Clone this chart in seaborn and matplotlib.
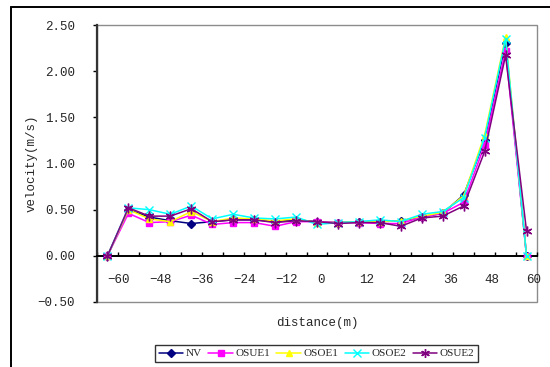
import matplotlib
matplotlib.use("Agg")
import matplotlib.pyplot as plt
from matplotlib.ticker import MultipleLocator, FuncFormatter, FixedLocator
from matplotlib.lines import Line2D
from matplotlib.patches import Rectangle
import numpy as np
import pandas as pd
import seaborn as sns

# Measurement stations along the section (m)
distance = [-60, -54, -48, -42, -36, -30, -24, -18, -12, -6, 0,
            6, 12, 18, 24, 30, 36, 42, 48, 54, 60]

# Velocity (m/s) for each scenario
nv = [0.00, 0.50, 0.42, 0.38, 0.35, 0.37, 0.39, 0.39, 0.37, 0.39, 0.37,
      0.36, 0.37, 0.37, 0.38, 0.42, 0.46, 0.66, 1.25, 2.31, 0.00]
osue1 = [0.00, 0.46, 0.36, 0.37, 0.44, 0.34, 0.36, 0.36, 0.32, 0.37, 0.37,
         0.36, 0.36, 0.35, 0.35, 0.42, 0.46, 0.58, 1.20, 2.22, 0.00]
osoe1 = [0.00, 0.50, 0.40, 0.37, 0.48, 0.37, 0.41, 0.40, 0.38, 0.40, 0.36,
         0.36, 0.37, 0.37, 0.38, 0.43, 0.47, 0.65, 1.31, 2.37, 0.00]
osoe2 = [0.00, 0.52, 0.50, 0.45, 0.54, 0.40, 0.45, 0.41, 0.40, 0.42, 0.34,
         0.36, 0.37, 0.39, 0.37, 0.45, 0.48, 0.63, 1.28, 2.35, 0.00]
osue2 = [0.00, 0.52, 0.43, 0.43, 0.51, 0.37, 0.39, 0.39, 0.36, 0.38, 0.37,
         0.35, 0.36, 0.36, 0.32, 0.41, 0.43, 0.54, 1.13, 2.17, 0.27]

series_names = ["NV", "OSUE1", "OSOE1", "OSOE2", "OSUE2"]
series_values = [nv, osue1, osoe1, osoe2, osue2]

x_tick_labels = [-60, -48, -36, -24, -12, 0, 12, 24, 36, 48, 60]

colors = ["#000080", "#FF00FF", "#FFFF00", "#00FFFF", "#800080"]
markers = ["D", "s", "^", "x", (6, 2, 0)]
msizes = [4, 5, 5, 6, 7]

df = pd.DataFrame({
    "distance": distance * len(series_names),
    "velocity": [v for vals in series_values for v in vals],
    "series": [n for n in series_names for _ in distance],
})

sns.set_style("white")
plt.rcParams["font.family"] = ["Liberation Mono", "DejaVu Sans"]

fig = plt.figure(figsize=(5.5, 3.67), dpi=100)
rect = [97 / 550, 65 / 367, 440 / 550, 277 / 367]

# Grey plot-area frame, drawn at figure level beneath the axes
fig.add_artist(Rectangle((rect[0], rect[1]), rect[2], rect[3],
                         transform=fig.transFigure, fill=False,
                         edgecolor="#8c8c8c", linewidth=1.0, zorder=-1))

ax = fig.add_axes(rect, zorder=1)
ax.patch.set_alpha(0)

for name, col, mk, ms in zip(series_names, colors, markers, msizes):
    sub = df[df["series"] == name]
    sns.lineplot(data=sub, x="distance", y="velocity", ax=ax, color=col,
                 marker=mk, markersize=ms, markeredgecolor=col,
                 markeredgewidth=1.0, linewidth=1.1, label=name,
                 legend=False, clip_on=False, zorder=3)

ax.set_xlim(-63, 63)
ax.set_ylim(-0.5, 2.5)

for side in ("top", "right"):
    ax.spines[side].set_visible(False)
ax.spines["left"].set_color("#333333")
ax.spines["left"].set_linewidth(1.6)
# Category axis crosses the value axis at zero
ax.spines["bottom"].set_position(("data", 0))
ax.spines["bottom"].set_color("black")
ax.spines["bottom"].set_linewidth(1.4)

ax.xaxis.set_major_locator(FixedLocator(x_tick_labels))
ax.tick_params(axis="x", which="major", bottom=True, length=0, pad=13,
               labelsize=9)
for lab in ax.get_xticklabels():
    lab.set_horizontalalignment("left")

ax.yaxis.set_major_locator(MultipleLocator(0.5))
ax.yaxis.set_major_formatter(
    FuncFormatter(lambda v, p: f"{v:.2f}".replace("-", "\u2212")))
ax.tick_params(axis="y", which="major", left=True, length=0, pad=16,
               labelsize=9)

# Tick marks: between categories on the zero axis, inward on the value axis
d = np.asarray(distance, dtype=float)
step = d[1] - d[0]
edges = np.concatenate([[d[0] - step / 2], (d[:-1] + d[1:]) / 2,
                        [d[-1] + step / 2]])
ax.plot(edges, np.zeros_like(edges), linestyle="none", marker=2,
        markersize=3, markeredgewidth=1.0, color="black", clip_on=False,
        zorder=2)
yt = np.arange(-0.5, 2.51, 0.5)
ax.plot(np.full_like(yt, edges[0]), yt, linestyle="none", marker=0,
        markersize=3, markeredgewidth=1.0, color="black", clip_on=False,
        zorder=2)

ax.set_xlabel("distance(m)", fontsize=9)
ax.set_ylabel("velocity(m/s)", fontsize=9)
ax.xaxis.set_label_coords(0.5, -0.055)
ax.yaxis.set_label_coords(-0.136, 0.5)
ax.grid(False)

handles = [Line2D([], [], color=c, marker=m, markersize=s * 0.9,
                  markeredgecolor=c, linewidth=1.1)
           for c, m, s in zip(colors, markers, msizes)]
leg = fig.legend(handles, series_names, loc="center",
                 bbox_to_anchor=(316.5 / 550, 13.5 / 367), ncol=5,
                 frameon=True, fancybox=False, edgecolor="black",
                 prop={"family": "Liberation Serif", "size": 8},
                 handlelength=2.2, handletextpad=0.2, columnspacing=0.6,
                 borderpad=0.35, borderaxespad=0)
leg.get_frame().set_linewidth(1.0)

# Outer chart-area border
fig.add_artist(Line2D([11 / 550, 11 / 550], [0, 1 - 6.5 / 367],
                      transform=fig.transFigure, color="black", lw=1.4))
fig.add_artist(Line2D([11 / 550, 1], [1 - 6.5 / 367, 1 - 6.5 / 367],
                      transform=fig.transFigure, color="black", lw=1.4))

fig.canvas.draw()
fig.savefig("out.png", dpi=100)
